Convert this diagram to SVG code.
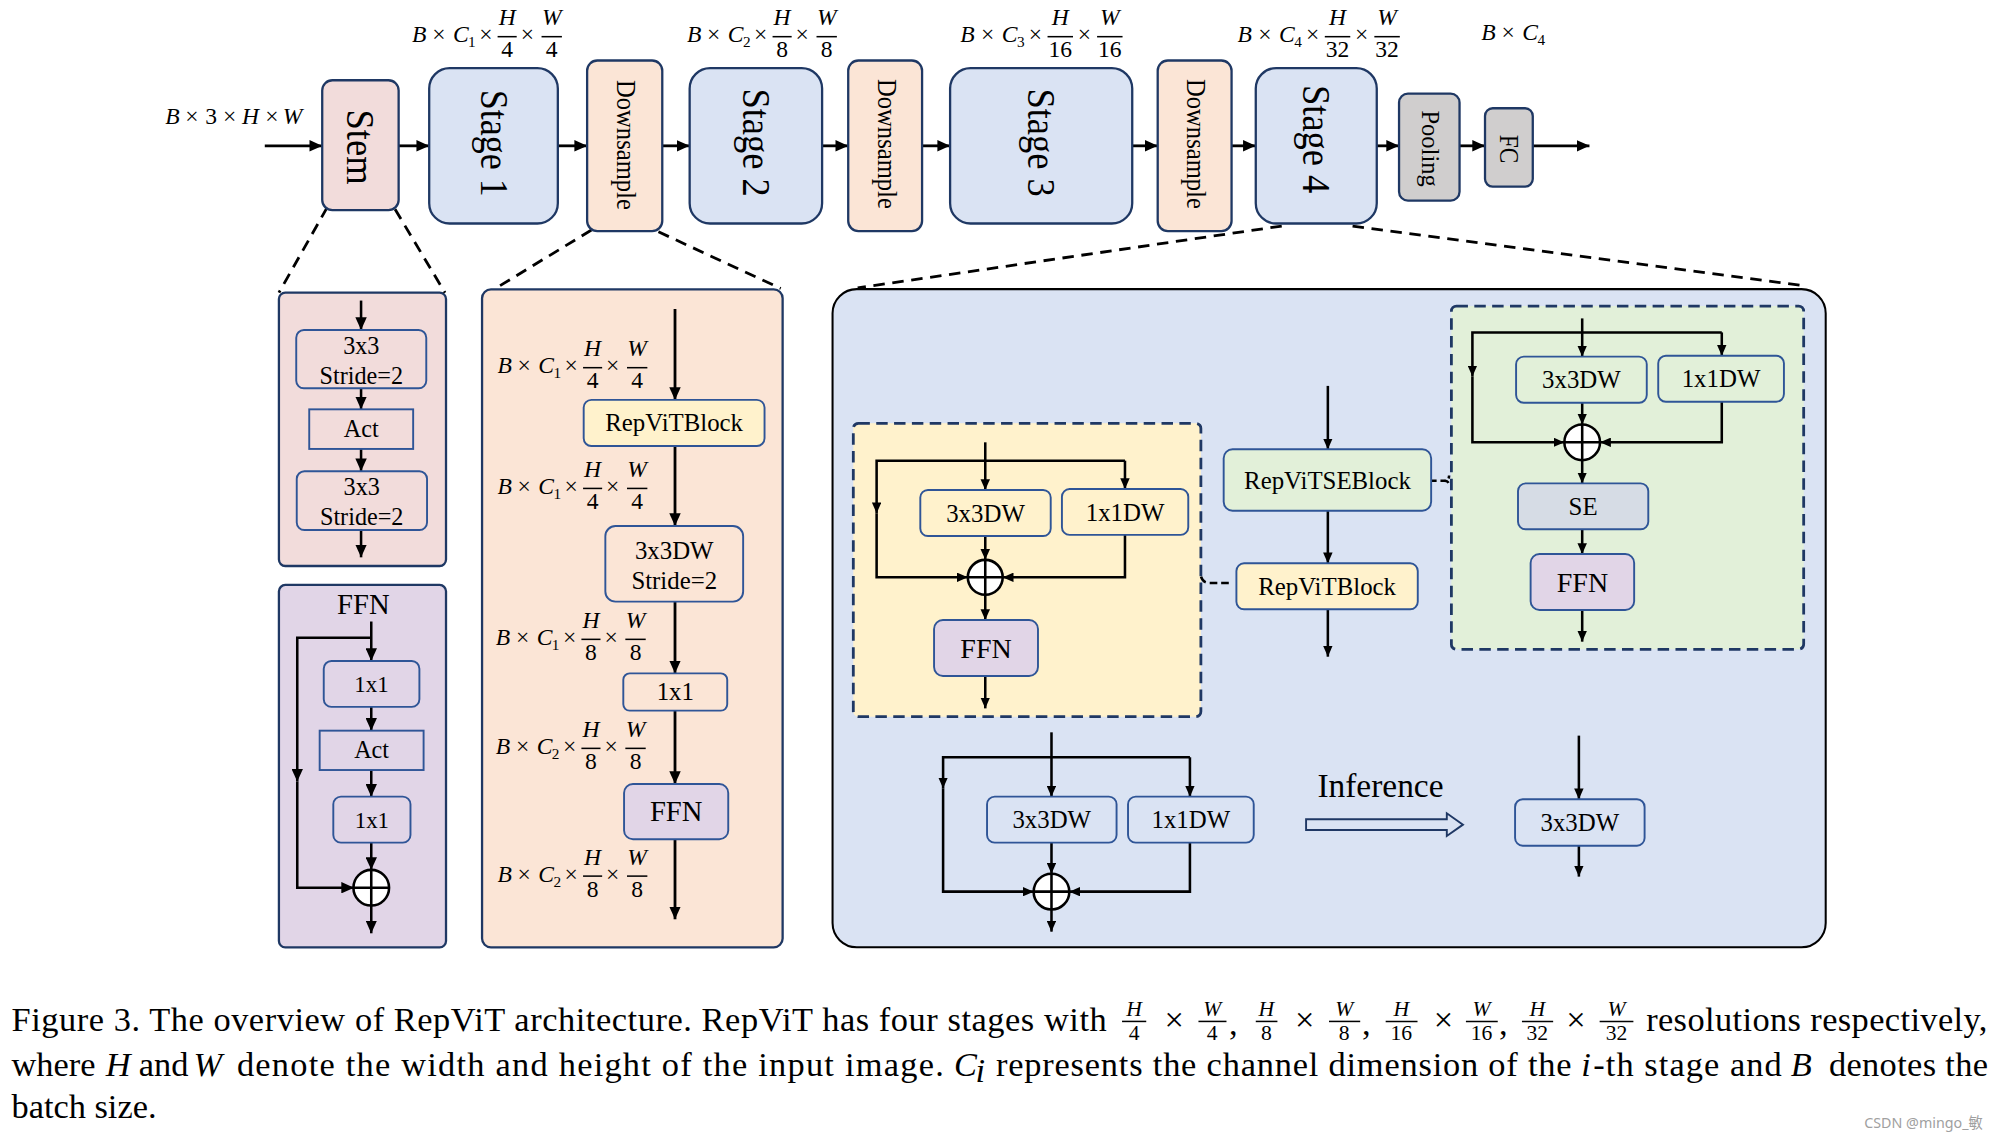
<svg xmlns="http://www.w3.org/2000/svg" width="1997" height="1139" viewBox="0 0 1997 1139">
<defs>
<style>
.tx{font-family:"Liberation Serif","Times New Roman",serif;fill:#000}
.c{text-anchor:middle}
.mi{font-family:"Liberation Serif","Times New Roman",serif;font-style:italic;font-size:18.5px;fill:#000}
.mo{font-family:"Liberation Serif","Times New Roman",serif;font-size:18.5px;fill:#000}
.ms{font-family:"Liberation Serif","Times New Roman",serif;font-size:12px;fill:#000}
.top{stroke:#1f3864;stroke-width:1.8}
.in{stroke:#2f5597;stroke-width:1.5}
.pk{fill:#f2dcdb}.bl{fill:#dae3f3}.pe{fill:#fbe5d6}.gy{fill:#d0cece}.pu{fill:#e1d5e7}.ye{fill:#fff2cc}.gr{fill:#e2f0d9}.se{fill:#d6dce5}
.ln{fill:none;stroke:#000;stroke-width:2.2}
.ln2{fill:none;stroke:#000;stroke-width:2}
.dl{fill:none;stroke:#000;stroke-width:2.2;stroke-dasharray:9 6}
.db{stroke:#1f3864;stroke-width:2.2;stroke-dasharray:9 5}
.fb{stroke:#000;stroke-width:1.2}
.cap{font-family:"Liberation Serif","Times New Roman",serif;font-size:27px;fill:#000}
.capi{font-style:italic}
.cf{font-family:"Liberation Serif","Times New Roman",serif;font-size:17px;fill:#000}
.oplus{fill:#fff;stroke:#000;stroke-width:2}
</style>
<marker id="a" viewBox="0 0 10 9" refX="10" refY="4.5" markerWidth="10" markerHeight="9" orient="auto" markerUnits="userSpaceOnUse"><path d="M0 0L10 4.5L0 9z" fill="#000"/></marker>
<marker id="s" viewBox="0 0 8 7" refX="8" refY="3.5" markerWidth="8.5" markerHeight="7.5" orient="auto" markerUnits="userSpaceOnUse"><path d="M0 0L8 3.5L0 7z" fill="#000"/></marker>
</defs>
<rect width="1997" height="1139" fill="#fff"/>
<g transform="scale(1.2736)">

<!-- detail containers -->
<g id="stem-detail"><rect class="top pk" x="219" y="229.8" width="131.2" height="214.6" rx="5"/></g>
<g id="ffn-detail"><rect class="top pu" x="219" y="459.3" width="131.2" height="284.5" rx="5"/>
<text class="tx c" x="285.3" y="482" font-size="22.5">FFN</text></g>
<g id="downsample-detail"><rect class="top pe" x="378.5" y="227.2" width="236" height="516.6" rx="7"/></g>
<g id="stage-detail"><rect x="653.7" y="227" width="779.8" height="516.8" rx="19" fill="#dae3f3" stroke="#000" stroke-width="1.6"/></g>
<g id="repvit-block-detail"><rect class="db ye" x="670" y="332.4" width="272.9" height="230.3" rx="4"/></g>
<g id="repvit-se-detail"><rect class="db gr" x="1139.6" y="240.3" width="276.6" height="269.5" rx="4"/></g>

<!-- connectors -->
<g id="connectors">
<g class="ln" marker-end="url(#a)">
<path d="M207.9 114.5H253"/>
<path d="M313 114.5H337"/>
<path d="M438 114.5H461"/>
<path d="M520 114.5H541.5"/>
<path d="M645.5 114.5H666"/>
<path d="M724 114.5H746"/>
<path d="M889 114.5H909"/>
<path d="M967 114.5H986"/>
<path d="M1081 114.5H1098.5"/>
<path d="M1146 114.5H1166"/>
<path d="M1203.5 114.5H1248"/>
</g>
<g class="dl">
<path d="M256.9 162.8L219 229.8"/>
<path d="M310.2 164.3L349.4 229.8"/>
<path d="M464.4 180.6L389 226.5"/>
<path d="M517 182L613 226.5"/>
<path d="M1006.4 177.5L673.4 226"/>
<path d="M1062 177.5L1413.3 224"/>
</g>
<g class="ln2" marker-end="url(#a)">
<path d="M283.5 236V259.1"/>
<path d="M283.5 304.9V321.4"/>
<path d="M283.5 352.5V370"/>
<path d="M283.5 416.2V437.6"/>
<path d="M291.5 488V519"/>
<path d="M291.5 500.7H233.4V613.7"/>
<path d="M233.4 613.7V697H278"/>
<path d="M291.5 555V573.7"/>
<path d="M291.5 604.6V625.5"/>
<path d="M291.5 661.6V683"/>
<path d="M291.5 711V732.8"/>
</g>
<g class="ln" marker-end="url(#a)">
<path d="M530 242.6V314"/>
<path d="M530 350.2V413"/>
<path d="M530 472.4V528.7"/>
<path d="M530 558V615.6"/>
<path d="M530 659V721.8"/>
</g>
<g class="ln2" marker-end="url(#s)">
<path d="M773.6 347.3V384.7"/>
<path d="M883.3 361.7V384"/>
<path d="M883.3 361.7H688.3V403"/>
<path d="M688.3 403V453.3H759.9"/>
<path d="M773.6 420.9V439.6"/>
<path d="M883.3 420V453.3H787.3"/>
<path d="M773.6 467V486.8"/>
<path d="M773.6 530.8V556.2"/>
<path d="M1042.6 303V352.8"/>
<path d="M1042.6 401V442.3"/>
<path d="M1042.6 478.4V515.6"/>
<path d="M1242.3 250V280"/>
<path d="M1351.9 261V279.3"/>
<path d="M1351.9 261H1156.1V295.7"/>
<path d="M1156.1 295.7V347.3H1228.3"/>
<path d="M1242.3 316.2V333.3"/>
<path d="M1351.9 315.4V347.3H1256.3"/>
<path d="M1242.3 361.3V379.5"/>
<path d="M1242.3 415.6V435"/>
<path d="M1242.3 479V503.8"/>
<path d="M825.6 575V625.5"/>
<path d="M934.3 594.6V625.5"/>
<path d="M934.3 594.6H740.5V619"/>
<path d="M740.5 619V700.1H811.6"/>
<path d="M825.6 661.6V686.1"/>
<path d="M934.3 661.6V700.1H839.6"/>
<path d="M825.6 714.1V731.5"/>
<path d="M1239.7 577.6V627.6"/>
<path d="M1239.7 664V688.3"/>
</g>
<path d="M943 452.8Q944.5 457.7 949.5 457.7H965" fill="none" stroke="#000" stroke-width="2" stroke-dasharray="6 3"/>
<path d="M1124 377.4H1134Q1137.8 377.4 1137.8 373.4M1134 377.4Q1137.8 377.4 1137.8 381.4" fill="none" stroke="#000" stroke-width="2" stroke-dasharray="4 3"/>
<polygon id="inference-arrow" points="1025.5,643.3 1136,643.3 1136,638.6 1148.7,647.5 1136,656.4 1136,651.7 1025.5,651.7" fill="#dae3f3" stroke="#1f3864" stroke-width="1.5"/>
</g>

<!-- top row nodes -->
<g id="stem"><rect class="top pk" x="253" y="63" width="60" height="102" rx="8"/>
<text class="tx c" x="283" y="115.5" dy="0.33em" font-size="32" textLength="59" lengthAdjust="spacingAndGlyphs" transform="rotate(90 283 115.5)">Stem</text></g>
<g id="stage1"><rect class="top bl" x="337" y="53.5" width="101" height="122" rx="16"/>
<text class="tx c" x="387.5" y="112.5" dy="0.33em" font-size="31" textLength="84" lengthAdjust="spacingAndGlyphs" transform="rotate(90 387.5 112.5)">Stage 1</text></g>
<g id="downsample1"><rect class="top pe" x="461" y="47.5" width="59" height="134" rx="8"/>
<text class="tx c" x="491" y="113.8" dy="0.3em" font-size="21" textLength="102" lengthAdjust="spacingAndGlyphs" transform="rotate(90 491 113.8)">Downsample</text></g>
<g id="stage2"><rect class="top bl" x="541.5" y="53.5" width="104" height="122" rx="16"/>
<text class="tx c" x="593.5" y="111.9" dy="0.33em" font-size="31" textLength="85" lengthAdjust="spacingAndGlyphs" transform="rotate(90 593.5 111.9)">Stage 2</text></g>
<g id="downsample2"><rect class="top pe" x="666" y="47.5" width="58" height="134" rx="8"/>
<text class="tx c" x="695.5" y="113" dy="0.3em" font-size="21" textLength="102" lengthAdjust="spacingAndGlyphs" transform="rotate(90 695.5 113)">Downsample</text></g>
<g id="stage3"><rect class="top bl" x="746" y="53.5" width="143" height="122" rx="16"/>
<text class="tx c" x="817.5" y="111.9" dy="0.33em" font-size="31" textLength="85" lengthAdjust="spacingAndGlyphs" transform="rotate(90 817.5 111.9)">Stage 3</text></g>
<g id="downsample3"><rect class="top pe" x="909" y="47.5" width="58" height="134" rx="8"/>
<text class="tx c" x="938.5" y="113" dy="0.3em" font-size="21" textLength="102" lengthAdjust="spacingAndGlyphs" transform="rotate(90 938.5 113)">Downsample</text></g>
<g id="stage4"><rect class="top bl" x="986" y="53.5" width="95" height="122" rx="16"/>
<text class="tx c" x="1033.5" y="109.3" dy="0.33em" font-size="31" textLength="85" lengthAdjust="spacingAndGlyphs" transform="rotate(90 1033.5 109.3)">Stage 4</text></g>
<g id="pooling"><rect class="top gy" x="1098.5" y="73.5" width="47.5" height="84" rx="7"/>
<text class="tx c" x="1122.3" y="116.7" dy="0.3em" font-size="20" textLength="60" lengthAdjust="spacingAndGlyphs" transform="rotate(90 1122.3 116.7)">Pooling</text></g>
<g id="fc"><rect class="top gy" x="1166" y="85" width="37.5" height="61.5" rx="6"/>
<text class="tx c" x="1184.8" y="117.1" dy="0.33em" font-size="21" textLength="22.5" lengthAdjust="spacingAndGlyphs" transform="rotate(90 1184.8 117.1)">FC</text></g>

<!-- stem detail nodes -->
<g id="stem-conv1"><rect class="in pk" x="232.6" y="259.1" width="102.1" height="45.8" rx="6"/>
<text class="tx c" x="283.7" y="278" font-size="19">3x3</text><text class="tx c" x="283.7" y="301.5" font-size="19">Stride=2</text></g>
<g id="stem-act"><rect class="in pk" x="242.8" y="321.4" width="81.6" height="31.1"/>
<text class="tx c" x="283.6" y="343.5" font-size="19">Act</text></g>
<g id="stem-conv2"><rect class="in pk" x="233" y="370" width="102.3" height="46.2" rx="6"/>
<text class="tx c" x="284" y="388.5" font-size="19">3x3</text><text class="tx c" x="284" y="412.5" font-size="19">Stride=2</text></g>

<!-- FFN detail nodes -->
<g id="ffn-1x1a"><rect class="in pu" x="254.2" y="519" width="75.1" height="36" rx="6"/>
<text class="tx c" x="291.7" y="543.5" font-size="18">1x1</text></g>
<g id="ffn-act"><rect class="in pu" x="251" y="573.7" width="81.6" height="30.9"/>
<text class="tx c" x="291.8" y="595.5" font-size="19">Act</text></g>
<g id="ffn-1x1b"><rect class="in pu" x="261.7" y="625.5" width="60.6" height="36.1" rx="6"/>
<text class="tx c" x="292" y="650" font-size="18">1x1</text></g>
<g id="ffn-add"><circle class="oplus" cx="291.5" cy="697" r="14"/><path d="M277.5 697H305.5M291.5 683V711" stroke="#000" stroke-width="2"/></g>

<!-- downsample detail nodes -->
<g id="ds-repvit"><rect class="in ye" x="458.3" y="314" width="142" height="36.2" rx="6"/>
<text class="tx c" x="529.3" y="338.8" font-size="19.5">RepViTBlock</text></g>
<g id="ds-dw"><rect class="in pe" x="475.3" y="413" width="108.2" height="59.4" rx="8"/>
<text class="tx c" x="529.4" y="439" font-size="19.5">3x3DW</text><text class="tx c" x="529.4" y="462.3" font-size="19.5">Stride=2</text></g>
<g id="ds-1x1"><rect class="in pe" x="489.4" y="528.7" width="81.6" height="29.3" rx="5"/>
<text class="tx c" x="530.2" y="550" font-size="19.5">1x1</text></g>
<g id="ds-ffn"><rect class="in pu" x="490" y="615.6" width="81.8" height="43.4" rx="7"/>
<text class="tx c" x="530.9" y="645" font-size="22.5">FFN</text></g>

<!-- RepViTBlock detail nodes -->
<g id="rb-3x3"><rect class="in ye" x="722.6" y="384.7" width="102.4" height="36.2" rx="6"/>
<text class="tx c" x="773.8" y="409.5" font-size="19.5">3x3DW</text></g>
<g id="rb-1x1"><rect class="in ye" x="833.8" y="384" width="99.2" height="36" rx="6"/>
<text class="tx c" x="883.4" y="408.7" font-size="19.5">1x1DW</text></g>
<g id="rb-add"><circle class="oplus" cx="773.6" cy="453.3" r="13.7"/><path d="M759.9 453.3H787.3M773.6 439.6V467" stroke="#000" stroke-width="2"/></g>
<g id="rb-ffn"><rect class="in pu" x="733.4" y="486.8" width="81.6" height="44" rx="7"/>
<text class="tx c" x="774.2" y="516.5" font-size="22">FFN</text></g>

<!-- stage column -->
<g id="st-repvitse"><rect class="in gr" x="960.8" y="352.8" width="162.9" height="48.2" rx="7"/>
<text class="tx c" x="1042.3" y="383.8" font-size="19.5">RepViTSEBlock</text></g>
<g id="st-repvit"><rect class="in ye" x="970.8" y="442.3" width="142.4" height="36.1" rx="6"/>
<text class="tx c" x="1042" y="467" font-size="19.5">RepViTBlock</text></g>

<!-- RepViTSEBlock detail nodes -->
<g id="se-3x3"><rect class="in gr" x="1190.4" y="280" width="102.6" height="36.2" rx="6"/>
<text class="tx c" x="1241.7" y="304.7" font-size="19.5">3x3DW</text></g>
<g id="se-1x1"><rect class="in gr" x="1302" y="279.3" width="98.7" height="36.1" rx="6"/>
<text class="tx c" x="1351.3" y="304" font-size="19.5">1x1DW</text></g>
<g id="se-add"><circle class="oplus" cx="1242.3" cy="347.3" r="14"/><path d="M1228.3 347.3H1256.3M1242.3 333.3V361.3" stroke="#000" stroke-width="2"/></g>
<g id="se-se"><rect class="in se" x="1191.9" y="379.5" width="102.3" height="36.1" rx="6"/>
<text class="tx c" x="1243" y="404.3" font-size="19.5">SE</text></g>
<g id="se-ffn"><rect class="in pu" x="1201.8" y="435" width="81.3" height="44" rx="7"/>
<text class="tx c" x="1242.5" y="465" font-size="22">FFN</text></g>

<!-- inference part -->
<g id="inf-3x3"><rect class="in bl" x="775" y="625.5" width="101.7" height="36.1" rx="6"/>
<text class="tx c" x="825.8" y="650.3" font-size="19.5">3x3DW</text></g>
<g id="inf-1x1"><rect class="in bl" x="885.7" y="625.5" width="98.7" height="36.1" rx="6"/>
<text class="tx c" x="935" y="650.3" font-size="19.5">1x1DW</text></g>
<g id="inf-add"><circle class="oplus" cx="825.6" cy="700.1" r="14"/><path d="M811.6 700.1H839.6M825.6 686.1V714.1" stroke="#000" stroke-width="2"/></g>
<text class="tx" x="1034.4" y="625.5" font-size="26" textLength="99" lengthAdjust="spacingAndGlyphs">Inference</text>
<g id="inf-merged"><rect class="in bl" x="1189.6" y="627.6" width="101.7" height="36.4" rx="6"/>
<text class="tx c" x="1240.4" y="652.5" font-size="19.5">3x3DW</text></g>

<!-- dimension labels -->
<g id="dim-input">
<text class="mi" x="129.7" y="97.4">B</text><text class="mo" x="145.5" y="97.4">×</text><text class="mo" x="161.2" y="97.4">3</text><text class="mo" x="175" y="97.4">×</text><text class="mi" x="190" y="97.4">H</text><text class="mo" x="208.3" y="97.4">×</text><text class="mi" x="222.1" y="97.4">W</text>
</g>
<g id="dim-s1">
<text class="mi" x="323.5" y="33.2">B</text><text class="mo" x="339.3" y="33.2">×</text><text class="mi" x="355.6" y="33.2">C</text><text class="ms" x="367.5" y="37.2">1</text><text class="mo" x="376.2" y="33.2">×</text>
<text class="mi c" x="398.2" y="19.8">H</text><line class="fb" x1="390.7" y1="28.8" x2="405.7" y2="28.8"/><text class="mo c" x="398.2" y="45">4</text>
<text class="mo" x="408.8" y="33.2">×</text>
<text class="mi c" x="433.2" y="19.8">W</text><line class="fb" x1="425.2" y1="28.8" x2="441.2" y2="28.8"/><text class="mo c" x="433.2" y="45">4</text>
</g>
<g id="dim-s2">
<text class="mi" x="539.4" y="33.2">B</text><text class="mo" x="555.2" y="33.2">×</text><text class="mi" x="571.5" y="33.2">C</text><text class="ms" x="583.4" y="37.2">2</text><text class="mo" x="592.1" y="33.2">×</text>
<text class="mi c" x="614.1" y="19.8">H</text><line class="fb" x1="606.6" y1="28.8" x2="621.6" y2="28.8"/><text class="mo c" x="614.1" y="45">8</text>
<text class="mo" x="624.7" y="33.2">×</text>
<text class="mi c" x="649.1" y="19.8">W</text><line class="fb" x1="641.1" y1="28.8" x2="657.1" y2="28.8"/><text class="mo c" x="649.1" y="45">8</text>
</g>
<g id="dim-s3">
<text class="mi" x="754" y="33.2">B</text><text class="mo" x="770.3" y="33.2">×</text><text class="mi" x="786.6" y="33.2">C</text><text class="ms" x="798.5" y="37.2">3</text><text class="mo" x="807.7" y="33.2">×</text>
<text class="mi c" x="832.5" y="19.8">H</text><line class="fb" x1="822.5" y1="28.8" x2="842.5" y2="28.8"/><text class="mo c" x="832.5" y="45">16</text>
<text class="mo" x="846.3" y="33.2">×</text>
<text class="mi c" x="871.4" y="19.8">W</text><line class="fb" x1="861.4" y1="28.8" x2="881.4" y2="28.8"/><text class="mo c" x="871.4" y="45">16</text>
</g>
<g id="dim-s4">
<text class="mi" x="971.7" y="33.2">B</text><text class="mo" x="988" y="33.2">×</text><text class="mi" x="1004.3" y="33.2">C</text><text class="ms" x="1016.2" y="37.2">4</text><text class="mo" x="1025.4" y="33.2">×</text>
<text class="mi c" x="1050.2" y="19.8">H</text><line class="fb" x1="1040.2" y1="28.8" x2="1060.2" y2="28.8"/><text class="mo c" x="1050.2" y="45">32</text>
<text class="mo" x="1064" y="33.2">×</text>
<text class="mi c" x="1089.1" y="19.8">W</text><line class="fb" x1="1079.1" y1="28.8" x2="1099.1" y2="28.8"/><text class="mo c" x="1089.1" y="45">32</text>
</g>
<g id="dim-out">
<text class="mi" x="1163" y="31.4">B</text><text class="mo" x="1179" y="31.4">×</text><text class="mi" x="1195.3" y="31.4">C</text><text class="ms" x="1207.2" y="35.4">4</text>
</g>
<g id="dim-p1">
<text class="mi" x="390.6" y="293.1">B</text><text class="mo" x="406.4" y="293.1">×</text><text class="mi" x="422.7" y="293.1">C</text><text class="ms" x="434.6" y="297.1">1</text><text class="mo" x="443.3" y="293.1">×</text>
<text class="mi c" x="465.3" y="279.7">H</text><line class="fb" x1="457.8" y1="288.7" x2="472.8" y2="288.7"/><text class="mo c" x="465.3" y="304.9">4</text>
<text class="mo" x="475.9" y="293.1">×</text>
<text class="mi c" x="500.3" y="279.7">W</text><line class="fb" x1="492.3" y1="288.7" x2="508.3" y2="288.7"/><text class="mo c" x="500.3" y="304.9">4</text>
</g>
<g id="dim-p2">
<text class="mi" x="390.6" y="387.9">B</text><text class="mo" x="406.4" y="387.9">×</text><text class="mi" x="422.7" y="387.9">C</text><text class="ms" x="434.6" y="391.9">1</text><text class="mo" x="443.3" y="387.9">×</text>
<text class="mi c" x="465.3" y="374.5">H</text><line class="fb" x1="457.8" y1="383.5" x2="472.8" y2="383.5"/><text class="mo c" x="465.3" y="399.7">4</text>
<text class="mo" x="475.9" y="387.9">×</text>
<text class="mi c" x="500.3" y="374.5">W</text><line class="fb" x1="492.3" y1="383.5" x2="508.3" y2="383.5"/><text class="mo c" x="500.3" y="399.7">4</text>
</g>
<g id="dim-p3">
<text class="mi" x="389.3" y="506.4">B</text><text class="mo" x="405.1" y="506.4">×</text><text class="mi" x="421.4" y="506.4">C</text><text class="ms" x="433.3" y="510.4">1</text><text class="mo" x="442" y="506.4">×</text>
<text class="mi c" x="464" y="493">H</text><line class="fb" x1="456.5" y1="502" x2="471.5" y2="502"/><text class="mo c" x="464" y="518.2">8</text>
<text class="mo" x="474.6" y="506.4">×</text>
<text class="mi c" x="499" y="493">W</text><line class="fb" x1="491" y1="502" x2="507" y2="502"/><text class="mo c" x="499" y="518.2">8</text>
</g>
<g id="dim-p4">
<text class="mi" x="389.3" y="592">B</text><text class="mo" x="405.1" y="592">×</text><text class="mi" x="421.4" y="592">C</text><text class="ms" x="433.3" y="596">2</text><text class="mo" x="442" y="592">×</text>
<text class="mi c" x="464" y="578.6">H</text><line class="fb" x1="456.5" y1="587.6" x2="471.5" y2="587.6"/><text class="mo c" x="464" y="603.8">8</text>
<text class="mo" x="474.6" y="592">×</text>
<text class="mi c" x="499" y="578.6">W</text><line class="fb" x1="491" y1="587.6" x2="507" y2="587.6"/><text class="mo c" x="499" y="603.8">8</text>
</g>
<g id="dim-p5">
<text class="mi" x="390.6" y="692.3">B</text><text class="mo" x="406.4" y="692.3">×</text><text class="mi" x="422.7" y="692.3">C</text><text class="ms" x="434.6" y="696.3">2</text><text class="mo" x="443.3" y="692.3">×</text>
<text class="mi c" x="465.3" y="678.9">H</text><line class="fb" x1="457.8" y1="687.9" x2="472.8" y2="687.9"/><text class="mo c" x="465.3" y="704.1">8</text>
<text class="mo" x="475.9" y="692.3">×</text>
<text class="mi c" x="500.3" y="678.9">W</text><line class="fb" x1="492.3" y1="687.9" x2="508.3" y2="687.9"/><text class="mo c" x="500.3" y="704.1">8</text>
</g>

<!-- caption -->
<g id="caption">
<text class="cap" x="9" y="809.5" textLength="860" lengthAdjust="spacing">Figure 3. The overview of RepViT architecture. RepViT has four stages with</text>
<text class="cf c capi" x="890.5" y="797.5">H</text><line class="fb" x1="881" y1="802" x2="900" y2="802"/><text class="cf c" x="890.5" y="816.8">4</text>
<text class="cap" x="914.4" y="809.5">×</text>
<text class="cf c capi" x="951.8" y="797.5">W</text><line class="fb" x1="941" y1="802" x2="963" y2="802"/><text class="cf c" x="951.8" y="816.8">4</text>
<text class="cap" x="965" y="813">,</text>
<text class="cf c capi" x="994.3" y="797.5">H</text><line class="fb" x1="986" y1="802" x2="1003" y2="802"/><text class="cf c" x="994.3" y="816.8">8</text>
<text class="cap" x="1016.8" y="809.5">×</text>
<text class="cf c capi" x="1055.5" y="797.5">W</text><line class="fb" x1="1043.5" y1="802" x2="1068" y2="802"/><text class="cf c" x="1055.5" y="816.8">8</text>
<text class="cap" x="1069.5" y="813">,</text>
<text class="cf c capi" x="1100.3" y="797.5">H</text><line class="fb" x1="1088" y1="802" x2="1113" y2="802"/><text class="cf c" x="1100.3" y="816.8">16</text>
<text class="cap" x="1125.8" y="809.5">×</text>
<text class="cf c capi" x="1163.3" y="797.5">W</text><line class="fb" x1="1151" y1="802" x2="1176" y2="802"/><text class="cf c" x="1163.3" y="816.8">16</text>
<text class="cap" x="1177" y="813">,</text>
<text class="cf c capi" x="1207" y="797.5">H</text><line class="fb" x1="1195" y1="802" x2="1219.5" y2="802"/><text class="cf c" x="1207" y="816.8">32</text>
<text class="cap" x="1229.7" y="809.5">×</text>
<text class="cf c capi" x="1269.3" y="797.5">W</text><line class="fb" x1="1256" y1="802" x2="1282.5" y2="802"/><text class="cf c" x="1269.3" y="816.8">32</text>
<text class="cap" x="1292.5" y="809.5" textLength="268" lengthAdjust="spacing">resolutions respectively,</text>
<text class="cap" x="9" y="845">where</text>
<text class="cap capi" x="83" y="845">H</text>
<text class="cap" x="109" y="845">and</text>
<text class="cap capi" x="152" y="845">W</text>
<text class="cap" x="186" y="845" textLength="555" lengthAdjust="spacing">denote the width and height of the input image.</text>
<text class="cap capi" x="749" y="845">C</text>
<text class="cap capi" x="766" y="849.5" font-size="18">i</text>
<text class="cap" x="782" y="845" textLength="452" lengthAdjust="spacing">represents the channel dimension of the</text>
<text class="cap capi" x="1241.5" y="845">i</text>
<text class="cap" x="1251" y="845" textLength="148" lengthAdjust="spacing">-th stage and</text>
<text class="cap capi" x="1406" y="845">B</text>
<text class="cap" x="1436" y="845" textLength="125" lengthAdjust="spacing">denotes the</text>
<text class="cap" x="9" y="878">batch size.</text>
</g>
<text x="1463.8" y="886" font-family="Noto Sans, Noto Sans CJK SC, sans-serif" font-size="11.5" fill="#a0a0a0" textLength="93" lengthAdjust="spacingAndGlyphs">CSDN @mingo_敏</text>
</g>
</svg>
